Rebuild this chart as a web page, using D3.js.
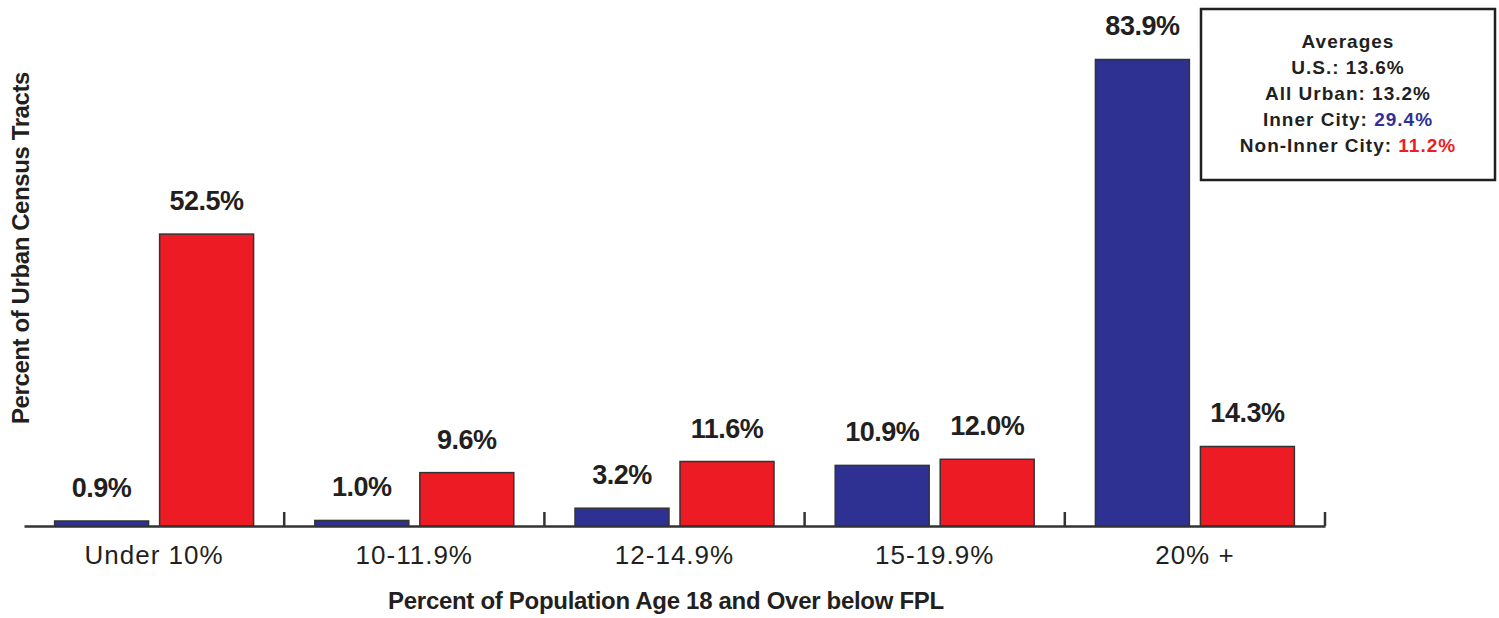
<!DOCTYPE html>
<html>
<head>
<meta charset="utf-8">
<script src="https://cdn.jsdelivr.net/npm/d3@7"></script>
<style>
  html, body { margin: 0; padding: 0; background: #fff; }
  svg { display: block; }
  text { font-family: "Liberation Sans", Arial, Helvetica, sans-serif; fill: #231f20; }
</style>
</head>
<body>
<svg id="chart" width="1499" height="618"></svg>
<script>
const categories = ["Under 10%", "10-11.9%", "12-14.9%", "15-19.9%", "20% +"];
const seriesNames = ["Inner City", "Non-Inner City"];
const innerCity = [0.9, 1.0, 3.2, 10.9, 83.9];
const nonInnerCity = [52.5, 9.6, 11.6, 12.0, 14.3];
const seriesColors = ["#2e3192", "#ed1c24"];
const xTitle = "Percent of Population Age 18 and Over below FPL";
const yTitle = "Percent of Urban Census Tracts";
const averagesTitle = "Averages";
const averages = [
  { label: "U.S.: ", value: "13.6%", color: "#231f20" },
  { label: "All Urban: ", value: "13.2%", color: "#231f20" },
  { label: "Inner City: ", value: "29.4%", color: "#2e3192" },
  { label: "Non-Inner City: ", value: "11.2%", color: "#ed1c24" }
];

const svg = d3.select("#chart");
const baseY = 526;
const x0 = d3.scaleBand().domain(categories).range([24, 1325]).padding(0);
const x1 = d3.scaleBand().domain(seriesNames).range([0, x0.bandwidth()])
  .paddingInner(0.105).paddingOuter(0.2916);
const y = d3.scaleLinear().domain([0, 94.6]).range([baseY, 0]);

const data = categories.map((c, i) => ({
  cat: c,
  vals: [
    { s: seriesNames[0], v: innerCity[i], color: seriesColors[0] },
    { s: seriesNames[1], v: nonInnerCity[i], color: seriesColors[1] }
  ]
}));

const groups = svg.append("g").selectAll("g").data(data).join("g")
  .attr("transform", d => `translate(${x0(d.cat)},0)`);

groups.selectAll("rect").data(d => d.vals).join("rect")
  .attr("x", d => x1(d.s))
  .attr("y", d => y(d.v))
  .attr("width", x1.bandwidth())
  .attr("height", d => baseY - y(d.v))
  .attr("fill", d => d.color)
  .attr("stroke", "#333")
  .attr("stroke-width", 1.5);

groups.selectAll("text.val").data(d => d.vals).join("text")
  .attr("class", "val")
  .attr("x", d => x1(d.s) + x1.bandwidth() / 2)
  .attr("y", d => y(d.v) - 24)
  .attr("text-anchor", "middle")
  .attr("font-size", 27)
  .attr("font-weight", "bold")
  .attr("letter-spacing", -0.5)
  .text(d => d.v.toFixed(1) + "%");

// x axis
const xAxis = d3.axisBottom(x0).tickSize(0).tickPadding(20);
const ax = svg.append("g").attr("transform", `translate(0,${baseY})`).call(xAxis);
ax.select(".domain").attr("stroke", "#333").attr("stroke-width", 2.5);
ax.selectAll(".tick text")
  .attr("font-size", 26)
  .attr("letter-spacing", 1)
  .attr("fill", "#231f20")
  .attr("font-family", "'Liberation Sans', Arial, sans-serif");

// separator ticks at band boundaries (right side of each band)
svg.append("g").selectAll("line").data(categories).join("line")
  .attr("x1", d => x0(d) + x0.bandwidth())
  .attr("x2", d => x0(d) + x0.bandwidth())
  .attr("y1", baseY)
  .attr("y2", baseY - 14)
  .attr("stroke", "#333")
  .attr("stroke-width", 2.5);

// axis titles
svg.append("text")
  .attr("x", 666)
  .attr("y", 609)
  .attr("text-anchor", "middle")
  .attr("font-size", 24)
  .attr("font-weight", "bold")
  .attr("letter-spacing", -0.3)
  .text(xTitle);

svg.append("text")
  .attr("transform", "translate(29,248) rotate(-90)")
  .attr("text-anchor", "middle")
  .attr("font-size", 24)
  .attr("font-weight", "bold")
  .attr("letter-spacing", -0.4)
  .text(yTitle);

// averages box
const box = svg.append("g");
box.append("rect")
  .attr("x", 1201).attr("y", 9).attr("width", 294).attr("height", 171)
  .attr("fill", "#fff").attr("stroke", "#231f20").attr("stroke-width", 2.5);
box.append("text")
  .attr("x", 1348).attr("y", 48)
  .attr("text-anchor", "middle")
  .attr("font-size", 19).attr("font-weight", "bold")
  .attr("letter-spacing", 1)
  .text(averagesTitle);
averages.forEach((a, i) => {
  const t = box.append("text")
    .attr("x", 1348).attr("y", 74 + i * 26)
    .attr("text-anchor", "middle")
    .attr("font-size", 19).attr("font-weight", "bold")
    .attr("letter-spacing", 1);
  t.append("tspan").text(a.label);
  t.append("tspan").style("fill", a.color).text(a.value);
});
</script>
</body>
</html>
